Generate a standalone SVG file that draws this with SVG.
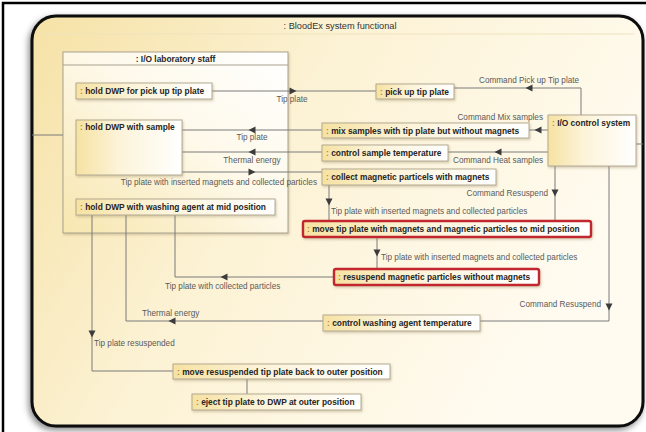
<svg xmlns="http://www.w3.org/2000/svg" width="646" height="432" viewBox="0 0 646 432">
<defs>
  <linearGradient id="gFrame" x1="0" y1="0" x2="1" y2="0.4">
    <stop offset="0" stop-color="#f6e2a6"/>
    <stop offset="0.45" stop-color="#fcf2d4"/>
    <stop offset="1" stop-color="#fffbf0"/>
  </linearGradient>
  <linearGradient id="gNode" x1="0" y1="0" x2="1" y2="0">
    <stop offset="0" stop-color="#f6e2a2"/>
    <stop offset="0.4" stop-color="#fcf3d8"/>
    <stop offset="1" stop-color="#ffffff"/>
  </linearGradient>
  <linearGradient id="gBig" x1="0" y1="1" x2="1" y2="0">
    <stop offset="0" stop-color="#f7e6ae"/>
    <stop offset="0.55" stop-color="#fef9ea"/>
    <stop offset="1" stop-color="#ffffff"/>
  </linearGradient>
  <filter id="fShadow" x="-10%" y="-10%" width="120%" height="120%">
    <feDropShadow dx="-2" dy="3" stdDeviation="3" flood-color="#000" flood-opacity="0.45"/>
  </filter>
  <filter id="nShadow" x="-5%" y="-20%" width="110%" height="150%">
    <feDropShadow dx="1" dy="1.5" stdDeviation="1" flood-color="#8a7a50" flood-opacity="0.35"/>
  </filter>
  <path id="ar" d="M3.5,0 L-3.5,-3.5 L-3.5,3.5 Z"/>
</defs>
<style>
  .node rect { fill: url(#gNode); stroke: #b3aa92; stroke-width: 1; filter: url(#nShadow); }
  .node.hot rect { stroke: #c2262e; stroke-width: 2.4; }
  .big rect { fill: url(#gBig); stroke: #a9a190; stroke-width: 1; filter: url(#nShadow); }
  .nt { font-family: "Liberation Sans", Arial, sans-serif; font-weight: bold; font-size: 8.4px; fill: #262626; }
  .pre { fill: #b88a2a; }
  .ttl { font-family: "Liberation Sans", Arial, sans-serif; font-size: 9.2px; fill: #333; }
  .lbl { font-family: "Liberation Sans", Arial, sans-serif; font-size: 8.2px; fill: #5a5a5a; }
  .ln { fill: none; stroke: #7a7a7a; stroke-width: 1; }
  .ah { fill: #3c3c3c; }
</style>

<rect width="646" height="432" fill="#ffffff"/>
<path d="M3,432 V3 H646" fill="none" stroke="#000" stroke-width="2.5"/>

<g id="frame">
  <rect x="32" y="16" width="611" height="410" rx="24" fill="url(#gFrame)" stroke="#0a0a0a" stroke-width="3" filter="url(#fShadow)"/>
  <line x1="40" y1="34" x2="635" y2="34" stroke="#efe3bd" stroke-width="1"/>
  <text class="ttl" x="340" y="29" text-anchor="middle">: BloodEx system functional</text>
</g>

<g id="lab-staff" class="big">
  <rect x="63" y="52" width="225" height="181"/>
  <line x1="63" y1="65" x2="288" y2="65" stroke="#a9a190" stroke-width="1"/>
  <text class="nt" x="175.5" y="62" text-anchor="middle">: I/O laboratory staff</text>
</g>

<g id="connectors">
  <path class="ln" d="M32,135 H63"/>
  <path class="ln" d="M636,144 H643"/>
  <path class="ln" d="M212,91 H376"/>
  <path class="ln" d="M322,130 H182"/>
  <path class="ln" d="M322,152 H182"/>
  <path class="ln" d="M182,172 H322"/>
  <path class="ln" d="M329,185 V221"/>
  <path class="ln" d="M377,237 V269"/>
  <path class="ln" d="M581,115 V88 H454"/>
  <path class="ln" d="M548,130 H529"/>
  <path class="ln" d="M548,152 H448"/>
  <path class="ln" d="M555,166 V221"/>
  <path class="ln" d="M609,166 V321 H480"/>
  <path class="ln" d="M323,321 H126 V215"/>
  <path class="ln" d="M334,277 H175 V215"/>
  <path class="ln" d="M92,215 V371 H173"/>
  <path class="ln" d="M247,379 V394"/>

  <use href="#ar" class="ah" transform="translate(293,91)"/>
  <use href="#ar" class="ah" transform="translate(252,130) rotate(180)"/>
  <use href="#ar" class="ah" transform="translate(252,152) rotate(180)"/>
  <use href="#ar" class="ah" transform="translate(252,172)"/>
  <use href="#ar" class="ah" transform="translate(329,202) rotate(90)"/>
  <use href="#ar" class="ah" transform="translate(377,253) rotate(90)"/>
  <use href="#ar" class="ah" transform="translate(529,88) rotate(180)"/>
  <use href="#ar" class="ah" transform="translate(538,130) rotate(180)"/>
  <use href="#ar" class="ah" transform="translate(498,152) rotate(180)"/>
  <use href="#ar" class="ah" transform="translate(555,193) rotate(90)"/>
  <use href="#ar" class="ah" transform="translate(609,307) rotate(90)"/>
  <use href="#ar" class="ah" transform="translate(172,321) rotate(180)"/>
  <use href="#ar" class="ah" transform="translate(224,277) rotate(180)"/>
  <use href="#ar" class="ah" transform="translate(92,334) rotate(90)"/>

  <text class="lbl" x="292" y="102" text-anchor="middle">Tip plate</text>
  <text class="lbl" x="252" y="140" text-anchor="middle">Tip plate</text>
  <text class="lbl" x="252" y="163" text-anchor="middle">Thermal energy</text>
  <text class="lbl" x="317" y="185" text-anchor="end">Tip plate with inserted magnets and collected particles</text>
  <text class="lbl" x="331" y="214">Tip plate with inserted magnets and collected particles</text>
  <text class="lbl" x="381" y="260">Tip plate with inserted magnets and collected particles</text>
  <text class="lbl" x="479" y="83">Command Pick up Tip plate</text>
  <text class="lbl" x="543" y="120" text-anchor="end">Command Mix samples</text>
  <text class="lbl" x="453" y="163">Command Heat samples</text>
  <text class="lbl" x="548" y="196" text-anchor="end">Command Resuspend</text>
  <text class="lbl" x="601" y="307" text-anchor="end">Command Resuspend</text>
  <text class="lbl" x="142" y="316">Thermal energy</text>
  <text class="lbl" x="165" y="289">Tip plate with collected particles</text>
  <text class="lbl" x="94" y="346">Tip plate resuspended</text>
</g>

<g id="n-hold-pickup" class="node">
  <rect x="76" y="83" width="136" height="16"/>
  <text class="nt" x="80" y="94"><tspan class="pre">: </tspan>hold DWP for pick up tip plate</text>
</g>
<g id="n-hold-sample" class="node">
  <rect x="76" y="120" width="106" height="55"/>
  <text class="nt" x="80" y="130"><tspan class="pre">: </tspan>hold DWP with sample</text>
</g>
<g id="n-hold-washing" class="node">
  <rect x="76" y="199" width="199" height="16"/>
  <text class="nt" x="80" y="210"><tspan class="pre">: </tspan>hold DWP with washing agent at mid position</text>
</g>
<g id="n-pickup" class="node">
  <rect x="376" y="84" width="78" height="15"/>
  <text class="nt" x="380" y="94.5"><tspan class="pre">: </tspan>pick up tip plate</text>
</g>
<g id="n-mix" class="node">
  <rect x="322" y="123" width="207" height="15"/>
  <text class="nt" x="326" y="133.5"><tspan class="pre">: </tspan>mix samples with tip plate but without magnets</text>
</g>
<g id="n-ctrl-sample" class="node">
  <rect x="322" y="145" width="126" height="16"/>
  <text class="nt" x="326" y="156"><tspan class="pre">: </tspan>control sample temperature</text>
</g>
<g id="n-collect" class="node">
  <rect x="322" y="169" width="174" height="16"/>
  <text class="nt" x="326" y="180"><tspan class="pre">: </tspan>collect magnetic particels with magnets</text>
</g>
<g id="n-move-mid" class="node hot">
  <rect x="303" y="221" width="288" height="16" rx="2"/>
  <text class="nt" x="307" y="232"><tspan class="pre">: </tspan>move tip plate with magnets and magnetic particles to mid position</text>
</g>
<g id="n-resuspend" class="node hot">
  <rect x="334" y="269" width="205" height="16" rx="2"/>
  <text class="nt" x="338" y="280"><tspan class="pre">: </tspan>resuspend magnetic particles without magnets</text>
</g>
<g id="n-io-ctrl" class="node">
  <rect x="548" y="115" width="88" height="51"/>
  <text class="nt" x="552" y="126"><tspan class="pre">: </tspan>I/O control system</text>
</g>
<g id="n-ctrl-wash" class="node">
  <rect x="323" y="315" width="157" height="16"/>
  <text class="nt" x="327" y="326"><tspan class="pre">: </tspan>control washing agent temperature</text>
</g>
<g id="n-move-back" class="node">
  <rect x="173" y="364" width="217" height="15"/>
  <text class="nt" x="177" y="374.5"><tspan class="pre">: </tspan>move resuspended tip plate back to outer position</text>
</g>
<g id="n-eject" class="node">
  <rect x="192" y="394" width="169" height="16"/>
  <text class="nt" x="196" y="405"><tspan class="pre">: </tspan>eject tip plate to DWP at outer position</text>
</g>
</svg>
